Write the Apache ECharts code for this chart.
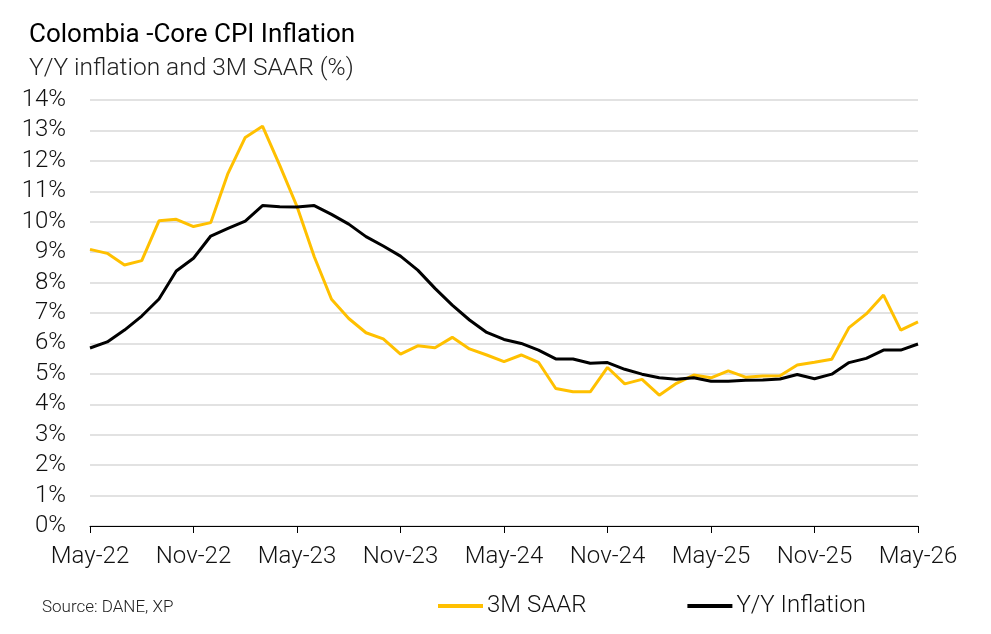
<!DOCTYPE html>
<html><head><meta charset="utf-8">
<script src="https://cdn.jsdelivr.net/npm/echarts@6/dist/echarts.min.js"></script>
<style>html,body{margin:0;padding:0;background:#fff}#c{width:991px;height:634px}</style>
</head><body><div id="c"></div>
<script>
const categories = [
 "May-22","Jun-22","Jul-22","Aug-22","Sep-22","Oct-22","Nov-22","Dec-22","Jan-23","Feb-23","Mar-23","Apr-23",
 "May-23","Jun-23","Jul-23","Aug-23","Sep-23","Oct-23","Nov-23","Dec-23","Jan-24","Feb-24","Mar-24","Apr-24",
 "May-24","Jun-24","Jul-24","Aug-24","Sep-24","Oct-24","Nov-24","Dec-24","Jan-25","Feb-25","Mar-25","Apr-25",
 "May-25","Jun-25","Jul-25","Aug-25","Sep-25","Oct-25","Nov-25","Dec-25","Jan-26","Feb-26","Mar-26","Apr-26",
 "May-26"];
const saar3m = [9.09,8.96,8.58,8.72,10.03,10.08,9.84,9.97,11.59,12.77,13.14,11.85,
 10.5,8.85,7.45,6.82,6.35,6.15,5.65,5.92,5.86,6.2,5.82,5.62,
 5.4,5.62,5.38,4.52,4.41,4.41,5.21,4.67,4.82,4.3,4.69,4.96,
 4.87,5.1,4.89,4.93,4.94,5.29,5.38,5.48,6.52,6.97,7.59,6.44,
 6.71];
const yoy = [5.85,6.05,6.44,6.9,7.46,8.38,8.8,9.53,9.78,10.02,10.53,10.49,
 10.48,10.53,10.24,9.92,9.51,9.2,8.87,8.41,7.81,7.26,6.77,6.36,
 6.13,6.0,5.78,5.49,5.49,5.35,5.37,5.15,4.99,4.87,4.82,4.87,
 4.76,4.76,4.79,4.8,4.83,4.98,4.84,4.99,5.37,5.51,5.78,5.78,
 5.98];
const titleText = "Colombia -Core CPI Inflation";
const subtitleText = "Y/Y inflation and 3M SAAR (%)";
const sourceText = "Source: DANE, XP";
const seriesNames = ["3M SAAR","Y/Y Inflation"];

const chart = echarts.init(document.getElementById('c'), null, {renderer:'canvas'});
const F = 'Roboto, sans-serif';
chart.setOption({
  animation:false,
  backgroundColor:'#fff',
  title:[
    {text:titleText, left:24, top:17, textStyle:{fontFamily:F, fontSize:26, fontWeight:'normal', color:'#000'}},
    {text:subtitleText, left:24, top:51, textStyle:{fontFamily:F, fontSize:24.5, fontWeight:300, color:'#222'}},
    {text:sourceText, left:37, top:594, textStyle:{fontFamily:F, fontSize:17, fontWeight:300, color:'#222'}}
  ],
  legend:{
    left:433, top:589, itemWidth:45, itemHeight:4, itemGap:101,
    icon:'rect',
    textStyle:{fontFamily:F, fontSize:24, fontWeight:300, color:'#111', padding:[0,0,0,-1]},
    data:seriesNames
  },
  grid:{left:90, right:73, top:100, bottom:108},
  xAxis:{
    type:'category', data:categories, boundaryGap:false,
    axisLine:{lineStyle:{color:'#000', width:1}},
    axisTick:{show:true, interval:5, length:7, lineStyle:{color:'#000'}},
    axisLabel:{interval:5, margin:19, fontFamily:F, fontSize:24, fontWeight:300, color:'#111'},
    splitLine:{show:false}
  },
  yAxis:{
    type:'value', min:0, max:14, interval:1,
    axisLine:{show:false}, axisTick:{show:false},
    axisLabel:{formatter:'{value}%', margin:24, fontFamily:F, fontSize:24, fontWeight:300, color:'#111'},
    splitLine:{lineStyle:{color:'#d9d9d9', width:1.5}}
  },
  series:[
    {name:seriesNames[0], type:'line', data:saar3m, symbol:'none', lineStyle:{color:'#FFC000', width:3}, itemStyle:{color:'#FFC000'}},
    {name:seriesNames[1], type:'line', data:yoy, symbol:'none', lineStyle:{color:'#000', width:3}, itemStyle:{color:'#000'}, z:3}
  ]
});
</script></body></html>
